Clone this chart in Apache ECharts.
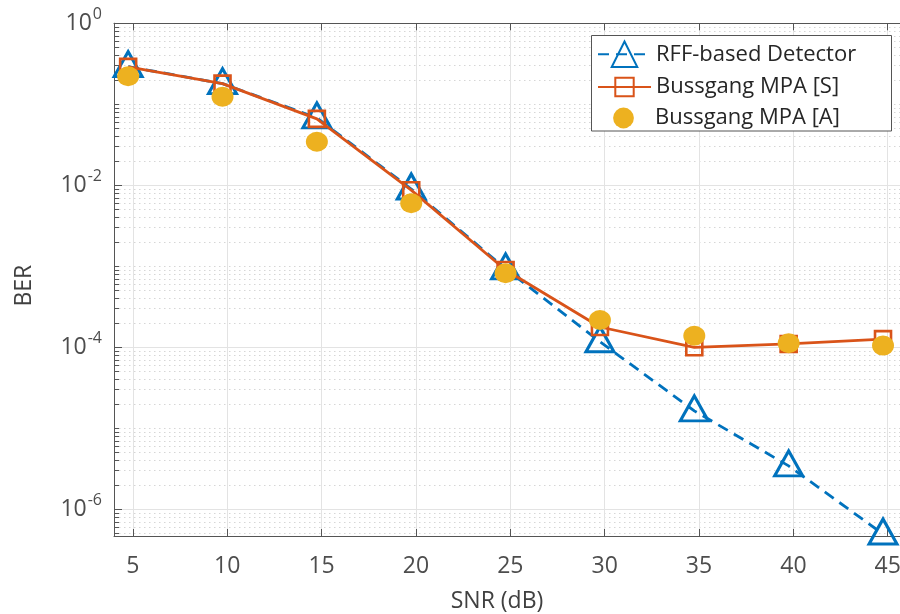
<!DOCTYPE html>
<html>
<head>
<meta charset="utf-8">
<script src="https://cdn.jsdelivr.net/npm/echarts@6/dist/echarts.min.js"></script>
<style>
html,body{margin:0;padding:0;background:#fff;}
#chart{width:900px;height:614px;}
</style>
</head>
<body>
<div id="chart"></div>
<script>
// ---- data ----
var snr = [4.75, 9.75, 14.75, 19.75, 24.75, 29.75, 34.75, 39.75, 44.75];
var berRFF = [0.292, 0.18, 0.068, 0.009, 9.3e-4, 1.17e-4, 1.64e-5, 3.43e-6, 4.95e-7];
var berBussS = [0.29, 0.18, 0.066, 0.0087, 9.0e-4, 1.78e-4, 1.0e-4, 1.1e-4, 1.26e-4];
var berBussA = [0.222, 0.124, 0.0345, 0.006, 8.2e-4, 2.17e-4, 1.39e-4, 1.12e-4, 1.05e-4];
var seriesNames = ['RFF-based Detector', 'Bussgang MPA [S]', 'Bussgang MPA [A]'];
var xTicks = [5, 10, 15, 20, 25, 30, 35, 40, 45];
var yTickExp = [0, -2, -4, -6];
var xLabel = 'SNR (dB)';
var yLabel = 'BER';

// ---- axis helpers ----
var yMinExp = -6.33, yMaxExp = 0;
var minorExp = [];
for (var n = -7; n <= -1; n++) {
  for (var k = 1; k <= 9; k++) {
    var v = Math.log10(k * Math.pow(10, n));
    if (k === 1 && n % 2 === 0) continue;
    if (v >= yMinExp && v <= yMaxExp) minorExp.push(v);
  }
}
function toPts(ys) { return ys.map(function (y, i) { return [snr[i], Math.log10(y)]; }); }

var FONT = 'Open Sans';
var AX = '#555555';
var TXT = '#4d4d4d';

var chart = echarts.init(document.getElementById('chart'), null, {renderer: 'canvas'});
var gridBox = {left: 114, right: 0, top: 23.3, bottom: 78, containLabel: false, outerBoundsMode: 'none'};

function xAxisBase(pos) {
  return {
    type: 'value', position: pos, min: 4, max: 45.65,
    axisLine: {show: true, onZero: false, lineStyle: {color: AX, width: 1}},
    axisTick: {show: true, inside: true, length: 7, customValues: xTicks, lineStyle: {color: AX}},
    axisLabel: {show: false, customValues: xTicks},
    splitLine: {show: false}
  };
}
function yAxisBase(pos, vals, len) {
  return {
    type: 'value', position: pos, min: yMinExp, max: yMaxExp,
    axisLine: {show: true, onZero: false, lineStyle: {color: AX, width: 1}},
    axisTick: {show: true, inside: true, length: len, customValues: vals, lineStyle: {color: AX}},
    axisLabel: {show: false, customValues: vals},
    splitLine: {show: false}
  };
}

var xBottom = xAxisBase('bottom');
xBottom.axisLabel = {show: true, customValues: xTicks, fontFamily: FONT, fontSize: 23, color: TXT, margin: 19};
xBottom.splitLine = {show: true, lineStyle: {color: '#e3e3e3', width: 1}};
xBottom.name = xLabel;
xBottom.nameLocation = 'middle';
xBottom.nameGap = 54;
xBottom.nameTextStyle = {fontFamily: FONT, fontSize: 23, color: '#404040', padding: [0, 20, 0, 0]};

var xTop = xAxisBase('top');

var yLeft = yAxisBase('left', yTickExp, 8);
yLeft.axisLabel = {
  show: true, customValues: yTickExp, margin: 12,
  formatter: function (v) { return '{b|10}{s|' + Math.round(v) + '}'; },
  rich: {
    b: {fontFamily: FONT, fontSize: 23, color: TXT, verticalAlign: 'bottom', lineHeight: 24},
    s: {fontFamily: FONT, fontSize: 16, color: TXT, verticalAlign: 'bottom', lineHeight: 16, padding: [0, 0, 13, 1]}
  }
};
yLeft.splitLine = {show: true, lineStyle: {color: '#e3e3e3', width: 1}};
yLeft.name = yLabel;
yLeft.nameLocation = 'middle';
yLeft.nameRotate = 90;
yLeft.nameGap = 78;
yLeft.nameTextStyle = {fontFamily: FONT, fontSize: 23, color: '#404040', padding: [0, 12, 0, 0]};

var yLeftMinor = yAxisBase('left', minorExp, 5);
yLeftMinor.splitLine = {show: true, lineStyle: {color: '#d6d6d6', width: 1, type: [1.5, 3.5]}};

var legendCommon = {
  orient: 'vertical', left: 597, padding: 0, itemWidth: 53,
  textStyle: {fontFamily: FONT, fontSize: 22, color: '#262626'},
  selectedMode: false, z: 5
};

var option = {
  animation: false,
  backgroundColor: '#ffffff',
  grid: gridBox,
  xAxis: [xBottom, xTop],
  yAxis: [yLeft, yLeftMinor],
  legend: [
    Object.assign({}, legendCommon, {data: [seriesNames[0]], top: 40.5, itemHeight: 32}),
    Object.assign({}, legendCommon, {data: [seriesNames[1]], top: 76, itemHeight: 23}),
    Object.assign({}, legendCommon, {data: [seriesNames[2]], top: 107, itemHeight: 26})
  ],
  graphic: [{
    type: 'rect', z: 3, silent: true,
    shape: {x: 591.5, y: 35.5, width: 300, height: 95.5},
    style: {fill: '#ffffff', stroke: '#555555', lineWidth: 1}
  }],
  series: [
    {
      name: seriesNames[0], type: 'line', xAxisIndex: 0, yAxisIndex: 0,
      data: toPts(berRFF), symbol: 'triangle', symbolSize: [28, 25], symbolOffset: [0, -2.5],
      lineStyle: {color: '#0072BD', width: 2.8, type: [11, 7]},
      itemStyle: {color: 'rgba(0,0,0,0)', borderColor: '#0072BD', borderWidth: 3},
      z: 2
    },
    {
      name: seriesNames[1], type: 'line', xAxisIndex: 0, yAxisIndex: 0,
      data: toPts(berBussS), symbol: 'rect', symbolSize: 16,
      lineStyle: {color: '#D95319', width: 2.8},
      itemStyle: {color: 'rgba(0,0,0,0)', borderColor: '#D95319', borderWidth: 2.6},
      z: 3
    },
    {
      name: seriesNames[2], type: 'line', xAxisIndex: 0, yAxisIndex: 0,
      data: toPts(berBussA), symbol: 'circle', symbolSize: [22, 20],
      lineStyle: {width: 0, opacity: 0},
      itemStyle: {color: '#EDB120', borderWidth: 0, opacity: 1},
      z: 4
    }
  ]
};
chart.setOption(option);
</script>
</body>
</html>
